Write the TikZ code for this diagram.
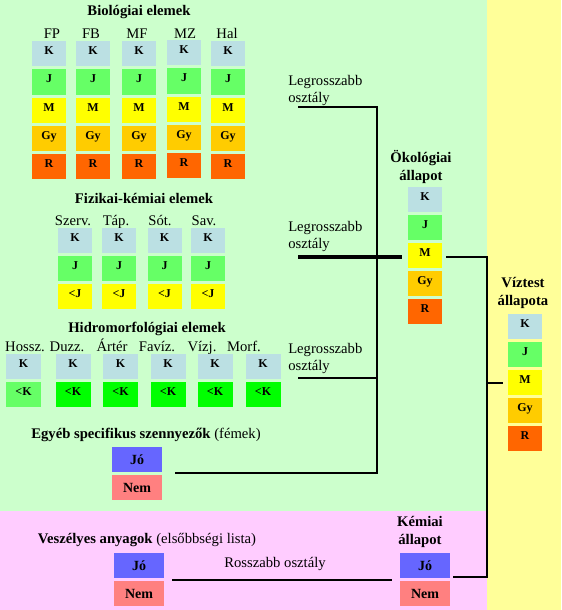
\documentclass[tikz,border=0pt]{standalone}
\usepackage{fontspec}
\setmainfont{Liberation Serif}
\definecolor{bgG}{HTML}{CCFFCC}
\definecolor{bgY}{HTML}{FFFF99}
\definecolor{bgP}{HTML}{FFCCFF}
\definecolor{cK}{HTML}{BBE0E3}
\definecolor{cJ}{HTML}{66FF66}
\definecolor{cJJ}{HTML}{00FF00}
\definecolor{cM}{HTML}{FFFF00}
\definecolor{cGy}{HTML}{FFCC00}
\definecolor{cR}{HTML}{FF6600}
\definecolor{cJo}{HTML}{6666FF}
\definecolor{cNem}{HTML}{FF8080}
\begin{document}
\begin{tikzpicture}[x=0.75pt,y=-0.75pt,
  cell/.style={inner sep=0pt, minimum width=25.5pt, minimum height=18.75pt,
    font=\bfseries\fontsize{9}{10}\selectfont, text height=6pt, text depth=4.5pt},
  wcell/.style={cell, minimum width=26.25pt},
  bigcell/.style={inner sep=0pt, minimum width=37.5pt, minimum height=18.75pt,
    font=\bfseries\fontsize{10.5}{12}\selectfont, text height=7pt, text depth=0pt},
  title/.style={inner sep=0pt, align=center, font=\bfseries\fontsize{11}{13.5}\selectfont},
  lab/.style={inner sep=0pt, align=left, font=\fontsize{11}{12.75}\selectfont},
  collab/.style={lab, text height=7.3pt, text depth=0pt},
  link/.style={line width=1.5pt},
  thicklink/.style={line width=2.5pt}]
\useasboundingbox (0,0) rectangle (561,610);
\fill[bgG] (0,0) rectangle (487,511);
\fill[bgP] (0,511) rectangle (487,610);
\fill[bgY] (487,0) rectangle (561,610);
% biologiai elemek
\node[title] (bio) at (139,12) {Biológiai elemek};
\node[collab] (fp) at (52,34) {FP};
\node[collab] (fb) at (91,34) {FB};
\node[collab] (mf) at (137,34) {MF};
\node[collab] (mz) at (185,34) {MZ};
\node[collab] (hal) at (227,34) {Hal};
\node[cell, fill=cK] (fp1) at (49,54) {K};
\node[cell, fill=cJ] (fp2) at (49,82) {J};
\node[cell, fill=cM] (fp3) at (49,110) {M};
\node[cell, fill=cGy] (fp4) at (49,138) {Gy};
\node[cell, fill=cR] (fp5) at (49,166) {R};
\node[cell, fill=cK] (fb1) at (93,54) {K};
\node[cell, fill=cJ] (fb2) at (93,82) {J};
\node[cell, fill=cM] (fb3) at (93,110) {M};
\node[cell, fill=cGy] (fb4) at (93,138) {Gy};
\node[cell, fill=cR] (fb5) at (93,166) {R};
\node[cell, fill=cK] (mf1) at (139,54) {K};
\node[cell, fill=cJ] (mf2) at (139,82) {J};
\node[cell, fill=cM] (mf3) at (139,110) {M};
\node[cell, fill=cGy] (mf4) at (139,138) {Gy};
\node[cell, fill=cR] (mf5) at (139,166) {R};
\node[cell, fill=cK] (mz1) at (184,53) {K};
\node[cell, fill=cJ] (mz2) at (184,81) {J};
\node[cell, fill=cM] (mz3) at (184,109) {M};
\node[cell, fill=cGy] (mz4) at (184,137) {Gy};
\node[cell, fill=cR] (mz5) at (184,165) {R};
\node[cell, fill=cK] (hal1) at (228,54) {K};
\node[cell, fill=cJ] (hal2) at (228,82) {J};
\node[cell, fill=cM] (hal3) at (228,110) {M};
\node[cell, fill=cGy] (hal4) at (228,138) {Gy};
\node[cell, fill=cR] (hal5) at (228,166) {R};
% fizikai-kemiai elemek
\node[title] (fk) at (144,198) {Fizikai-kémiai elemek};
\node[collab] (szerv) at (73,221) {Szerv.};
\node[collab] (tap) at (116,221) {Táp.};
\node[collab] (sot) at (160,221) {Sót.};
\node[collab] (sav) at (204,221) {Sav.};
\node[cell, fill=cK] (szerv1) at (75,240.5) {K};
\node[cell, fill=cJ] (szerv2) at (75,268.5) {J};
\node[cell, fill=cM] (szerv3) at (75,296.5) {<J};
\node[cell, fill=cK] (tap1) at (119,240.5) {K};
\node[cell, fill=cJ] (tap2) at (119,268.5) {J};
\node[cell, fill=cM] (tap3) at (119,296.5) {<J};
\node[cell, fill=cK] (sot1) at (164.5,240.5) {K};
\node[cell, fill=cJ] (sot2) at (164.5,268.5) {J};
\node[cell, fill=cM] (sot3) at (164.5,296.5) {<J};
\node[cell, fill=cK] (sav1) at (208,240.5) {K};
\node[cell, fill=cJ] (sav2) at (208,268.5) {J};
\node[cell, fill=cM] (sav3) at (208,296.5) {<J};
% hidromorfologiai elemek
\node[title] (hm) at (147,329) {Hidromorfológiai elemek};
\node[collab] (hossz) at (25,347) {Hossz.};
\node[collab] (duzz) at (67,347) {Duzz.};
\node[collab] (arter) at (112,347) {Ártér};
\node[collab] (faviz) at (157,347) {Favíz.};
\node[collab] (vizj) at (202,347) {Vízj.};
\node[collab] (morf) at (244,347) {Morf.};
\node[wcell, fill=cK] (hossz1) at (23.5,366.5) {K};
\node[wcell, fill=cJ] (hossz2) at (23.5,394.5) {<K};
\node[wcell, fill=cK] (duzz1) at (73,366.5) {K};
\node[wcell, fill=cJJ] (duzz2) at (73,394.5) {<K};
\node[wcell, fill=cK] (arter1) at (120.5,366.5) {K};
\node[wcell, fill=cJJ] (arter2) at (120.5,394.5) {<K};
\node[wcell, fill=cK] (faviz1) at (168,366.5) {K};
\node[wcell, fill=cJJ] (faviz2) at (168,394.5) {<K};
\node[wcell, fill=cK] (vizj1) at (215,366.5) {K};
\node[wcell, fill=cJJ] (vizj2) at (215,394.5) {<K};
\node[wcell, fill=cK] (morf1) at (263,366.5) {K};
\node[wcell, fill=cJJ] (morf2) at (263,394.5) {<K};
% egyeb szennyezok
\node[collab] (egy) at (146,434) {\textbf{Egyéb specifikus szennyezők} (fémek)};
\node[bigcell, fill=cJo] (egyjo) at (137,459.5) {Jó};
\node[bigcell, fill=cNem] (egynem) at (137,487.5) {Nem};
% legrosszabb osztaly
\node[lab, anchor=west] (lr1) at (288,90) {Legrosszabb\\osztály};
\node[lab, anchor=west] (lr2) at (288,236.5) {Legrosszabb\\osztály};
\node[lab, anchor=west] (lr3) at (288,358) {Legrosszabb\\osztály};
% okologiai allapot
\node[title] (ok) at (421,167) {Ökológiai\\állapot};
\node[cell, fill=cK] (ok1) at (425,199) {K};
\node[cell, fill=cJ] (ok2) at (425,227) {J};
\node[cell, fill=cM] (ok3) at (425,255) {M};
\node[cell, fill=cGy] (ok4) at (425,283.5) {Gy};
\node[cell, fill=cR] (ok5) at (425,311) {R};
% viztest allapota
\node[title] (vt) at (523,293) {Víztest\\állapota};
\node[cell, fill=cK] (vt1) at (525,326.5) {K};
\node[cell, fill=cJ] (vt2) at (525,354.5) {J};
\node[cell, fill=cM] (vt3) at (525,382.5) {M};
\node[cell, fill=cGy] (vt4) at (525,410.5) {Gy};
\node[cell, fill=cR] (vt5) at (525,438.5) {R};
% veszelyes anyagok
\node[collab] (ves) at (147,539) {\textbf{Veszélyes anyagok} (elsőbbségi lista)};
\node[bigcell, fill=cJo] (vesjo) at (139,565.5) {Jó};
\node[bigcell, fill=cNem] (vesnem) at (139,593.5) {Nem};
\node[collab] (rossz) at (275,563) {Rosszabb osztály};
\node[title] (kem) at (420,532) {Kémiai\\állapot};
\node[bigcell, fill=cJo] (kemjo) at (425,565.5) {Jó};
\node[bigcell, fill=cNem] (kemnem) at (425,593.5) {Nem};
% connectors
\coordinate (w1) at (298,107);
\coordinate (w2) at (298,257);
\coordinate (w3) at (298,378);
\coordinate (b1) at (377,473);
\coordinate (c1) at (175,473);
\coordinate (e2) at (402,257);
\coordinate (r0) at (446,257);
\coordinate (r1) at (487,577);
\coordinate (r2) at (453,577);
\coordinate (v0) at (503,383);
\coordinate (s0) at (172,580);
\coordinate (s1) at (392,580);
\draw[link] (w1) -| (b1) -- (c1);
\draw[link] (w3) -- (w3 -| b1);
\draw[thicklink] (w2) -- (e2);
\draw[link] (r0) -| (r1) -- (r2);
\draw[link] (v0 -| r1) -- (v0);
\draw[link] (s0) -- (s1);
\end{tikzpicture}
\end{document}
